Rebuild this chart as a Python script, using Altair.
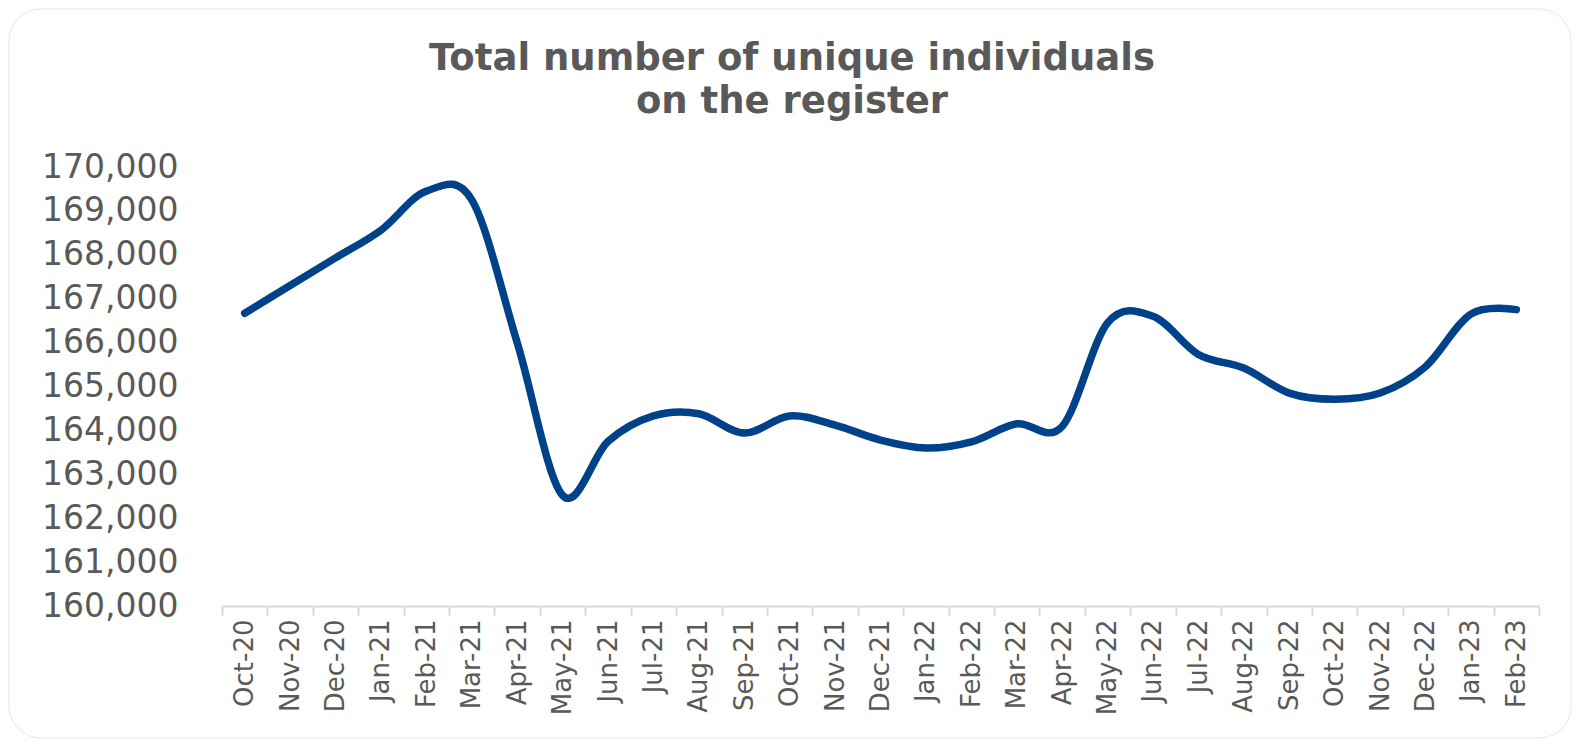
import altair as alt
import pandas as pd

months = ["Oct-20", "Nov-20", "Dec-20", "Jan-21", "Feb-21", "Mar-21", "Apr-21", "May-21",
          "Jun-21", "Jul-21", "Aug-21", "Sep-21", "Oct-21", "Nov-21", "Dec-21", "Jan-22",
          "Feb-22", "Mar-22", "Apr-22", "May-22", "Jun-22", "Jul-22", "Aug-22", "Sep-22",
          "Oct-22", "Nov-22", "Dec-22", "Jan-23", "Feb-23"]
individuals = [166670, 167300, 167930, 168560, 169450, 169250, 166000, 162520,
               163750, 164330, 164380, 163940, 164330, 164120, 163780, 163600,
               163740, 164150, 164090, 166450, 166600, 165730, 165420, 164850,
               164710, 164850, 165450, 166650, 166750]
y_ticks = [160000, 161000, 162000, 163000, 164000, 165000, 166000, 167000, 168000, 169000, 170000]
title_lines = ["Total number of unique individuals", "on the register"]

df = pd.DataFrame({"month": months, "individuals": individuals})
one = pd.DataFrame({"k": [0]})

W, H = 1317, 439
GRAY = "#595959"

line = alt.Chart(df).mark_line(
    interpolate="cardinal", tension=0, color="#00428A", strokeWidth=7.5, strokeCap="round"
).encode(
    x=alt.X("month:N", sort=months, bandPosition=0.5,
            scale=alt.Scale(type="band", paddingInner=0, paddingOuter=0),
            axis=alt.Axis(title=None, labelAngle=-90, tickBand="extent",
                          labelFont="DejaVu Sans", labelFontSize=26, labelColor=GRAY,
                          labelPadding=4, tickSize=9, tickColor="#d9d9d9", tickWidth=2,
                          domainColor="#d9d9d9", domainWidth=2, grid=False)),
    y=alt.Y("individuals:Q", scale=alt.Scale(domain=[160000, 170000], nice=False, zero=False),
            axis=alt.Axis(title=None, values=y_ticks, format=",.0f", labelFont="DejaVu Sans",
                          labelFontSize=33, labelColor=GRAY, labelPadding=44,
                          ticks=False, domain=False, grid=False))
)

border = alt.Chart(one).mark_rect(
    filled=False, stroke="#e6e6e6", strokeWidth=1, cornerRadius=32
).encode(
    x=alt.value(-213), x2=alt.value(1349), y=alt.value(-158), y2=alt.value(571)
)

t1 = alt.Chart(one).mark_text(
    font="DejaVu Sans", fontWeight="bold", fontSize=37, color=GRAY, align="center", baseline="alphabetic"
).encode(x=alt.value(570), y=alt.value(-97), text=alt.value(title_lines[0]))
t2 = alt.Chart(one).mark_text(
    font="DejaVu Sans", fontWeight="bold", fontSize=37, color=GRAY, align="center", baseline="alphabetic"
).encode(x=alt.value(570), y=alt.value(-54), text=alt.value(title_lines[1]))

chart = alt.layer(border, line, t1, t2).properties(
    width=W, height=H,
    autosize=alt.AutoSizeParams(type="none"),
    padding={"left": 214, "top": 159, "right": 33, "bottom": 133},
    background="white",
).configure_view(strokeWidth=0)

chart.save("out.html", embed_options={"renderer": "svg", "actions": False})
